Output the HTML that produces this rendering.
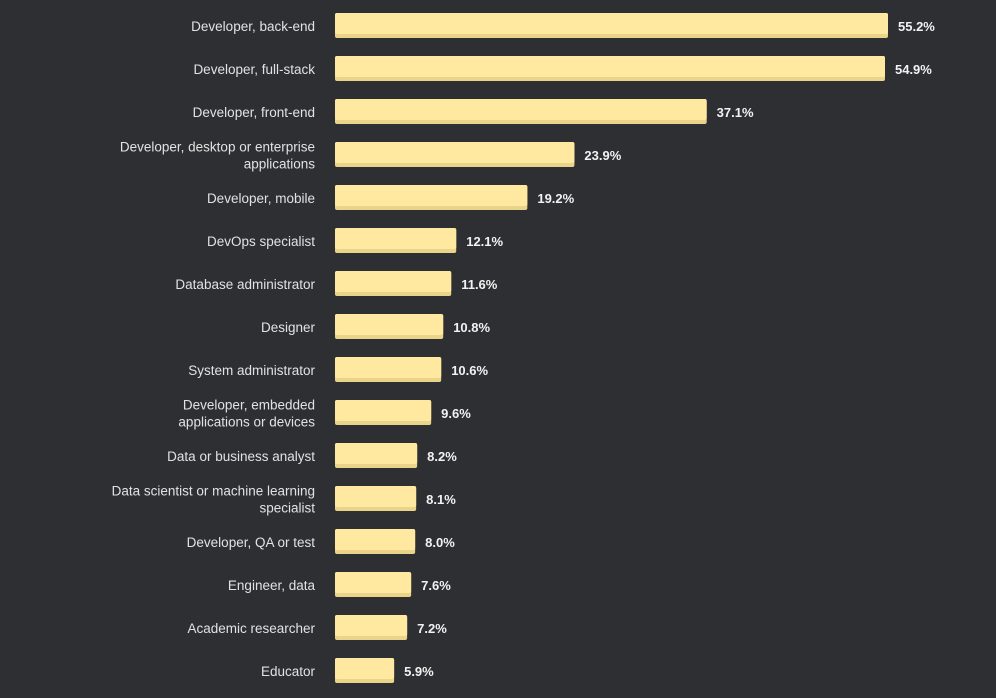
<!DOCTYPE html>
<html><head><meta charset="utf-8"><style>
html,body{margin:0;padding:0;background:#2d2f33;width:996px;height:698px;overflow:hidden}
svg{display:block}
text{font-family:"Liberation Sans",sans-serif}
</style></head><body>
<svg id="chart" width="996" height="698"></svg>
<script>
const categories=[["Developer, back-end"],["Developer, full-stack"],["Developer, front-end"],["Developer, desktop or enterprise","applications"],["Developer, mobile"],["DevOps specialist"],["Database administrator"],["Designer"],["System administrator"],["Developer, embedded","applications or devices"],["Data or business analyst"],["Data scientist or machine learning","specialist"],["Developer, QA or test"],["Engineer, data"],["Academic researcher"],["Educator"]];
const values=[55.2,54.9,37.1,23.9,19.2,12.1,11.6,10.8,10.6,9.6,8.2,8.1,8.0,7.6,7.2,5.9];
const valueLabels=["55.2%","54.9%","37.1%","23.9%","19.2%","12.1%","11.6%","10.8%","10.6%","9.6%","8.2%","8.1%","8.0%","7.6%","7.2%","5.9%"];
const NS="http://www.w3.org/2000/svg";
const svg=document.getElementById('chart');
const x0=335,pxPer=553/55.2;
const xScale=v=>v*pxPer;
const yCenter=i=>26+i*43;
function mk(t,a){const e=document.createElementNS(NS,t);for(const k in a)e.setAttribute(k,a[k]);svg.appendChild(e);return e;}
values.forEach((v,i)=>{
  const w=xScale(v),cy=yCenter(i);
  const g=mk('g',{});
  
  
  const s=mk('rect',{x:x0,y:cy-13,width:w,height:25,rx:2,fill:'#ead48a'});g.appendChild(s);
  const b=mk('rect',{x:x0,y:cy-13,width:w,height:21,rx:2,fill:'#ffe9a1'});g.appendChild(b);
  const vl=mk('text',{x:x0+w+10,y:cy+5,fill:'#f2f2f2','font-size':13,'font-weight':'bold'});
  vl.textContent=valueLabels[i];
  
  
  const lines=categories[i];
  const cl=mk('text',{x:315,y:cy+5-(lines.length-1)*8.5,fill:'#e2e2e2','font-size':13.5,'text-anchor':'end'});
  
  
  lines.forEach((l,j)=>{const ts=document.createElementNS(NS,'tspan');ts.setAttribute('x',315);if(j>0)ts.setAttribute('dy',17);ts.textContent=l;cl.appendChild(ts);});
});
</script>
</body></html>
